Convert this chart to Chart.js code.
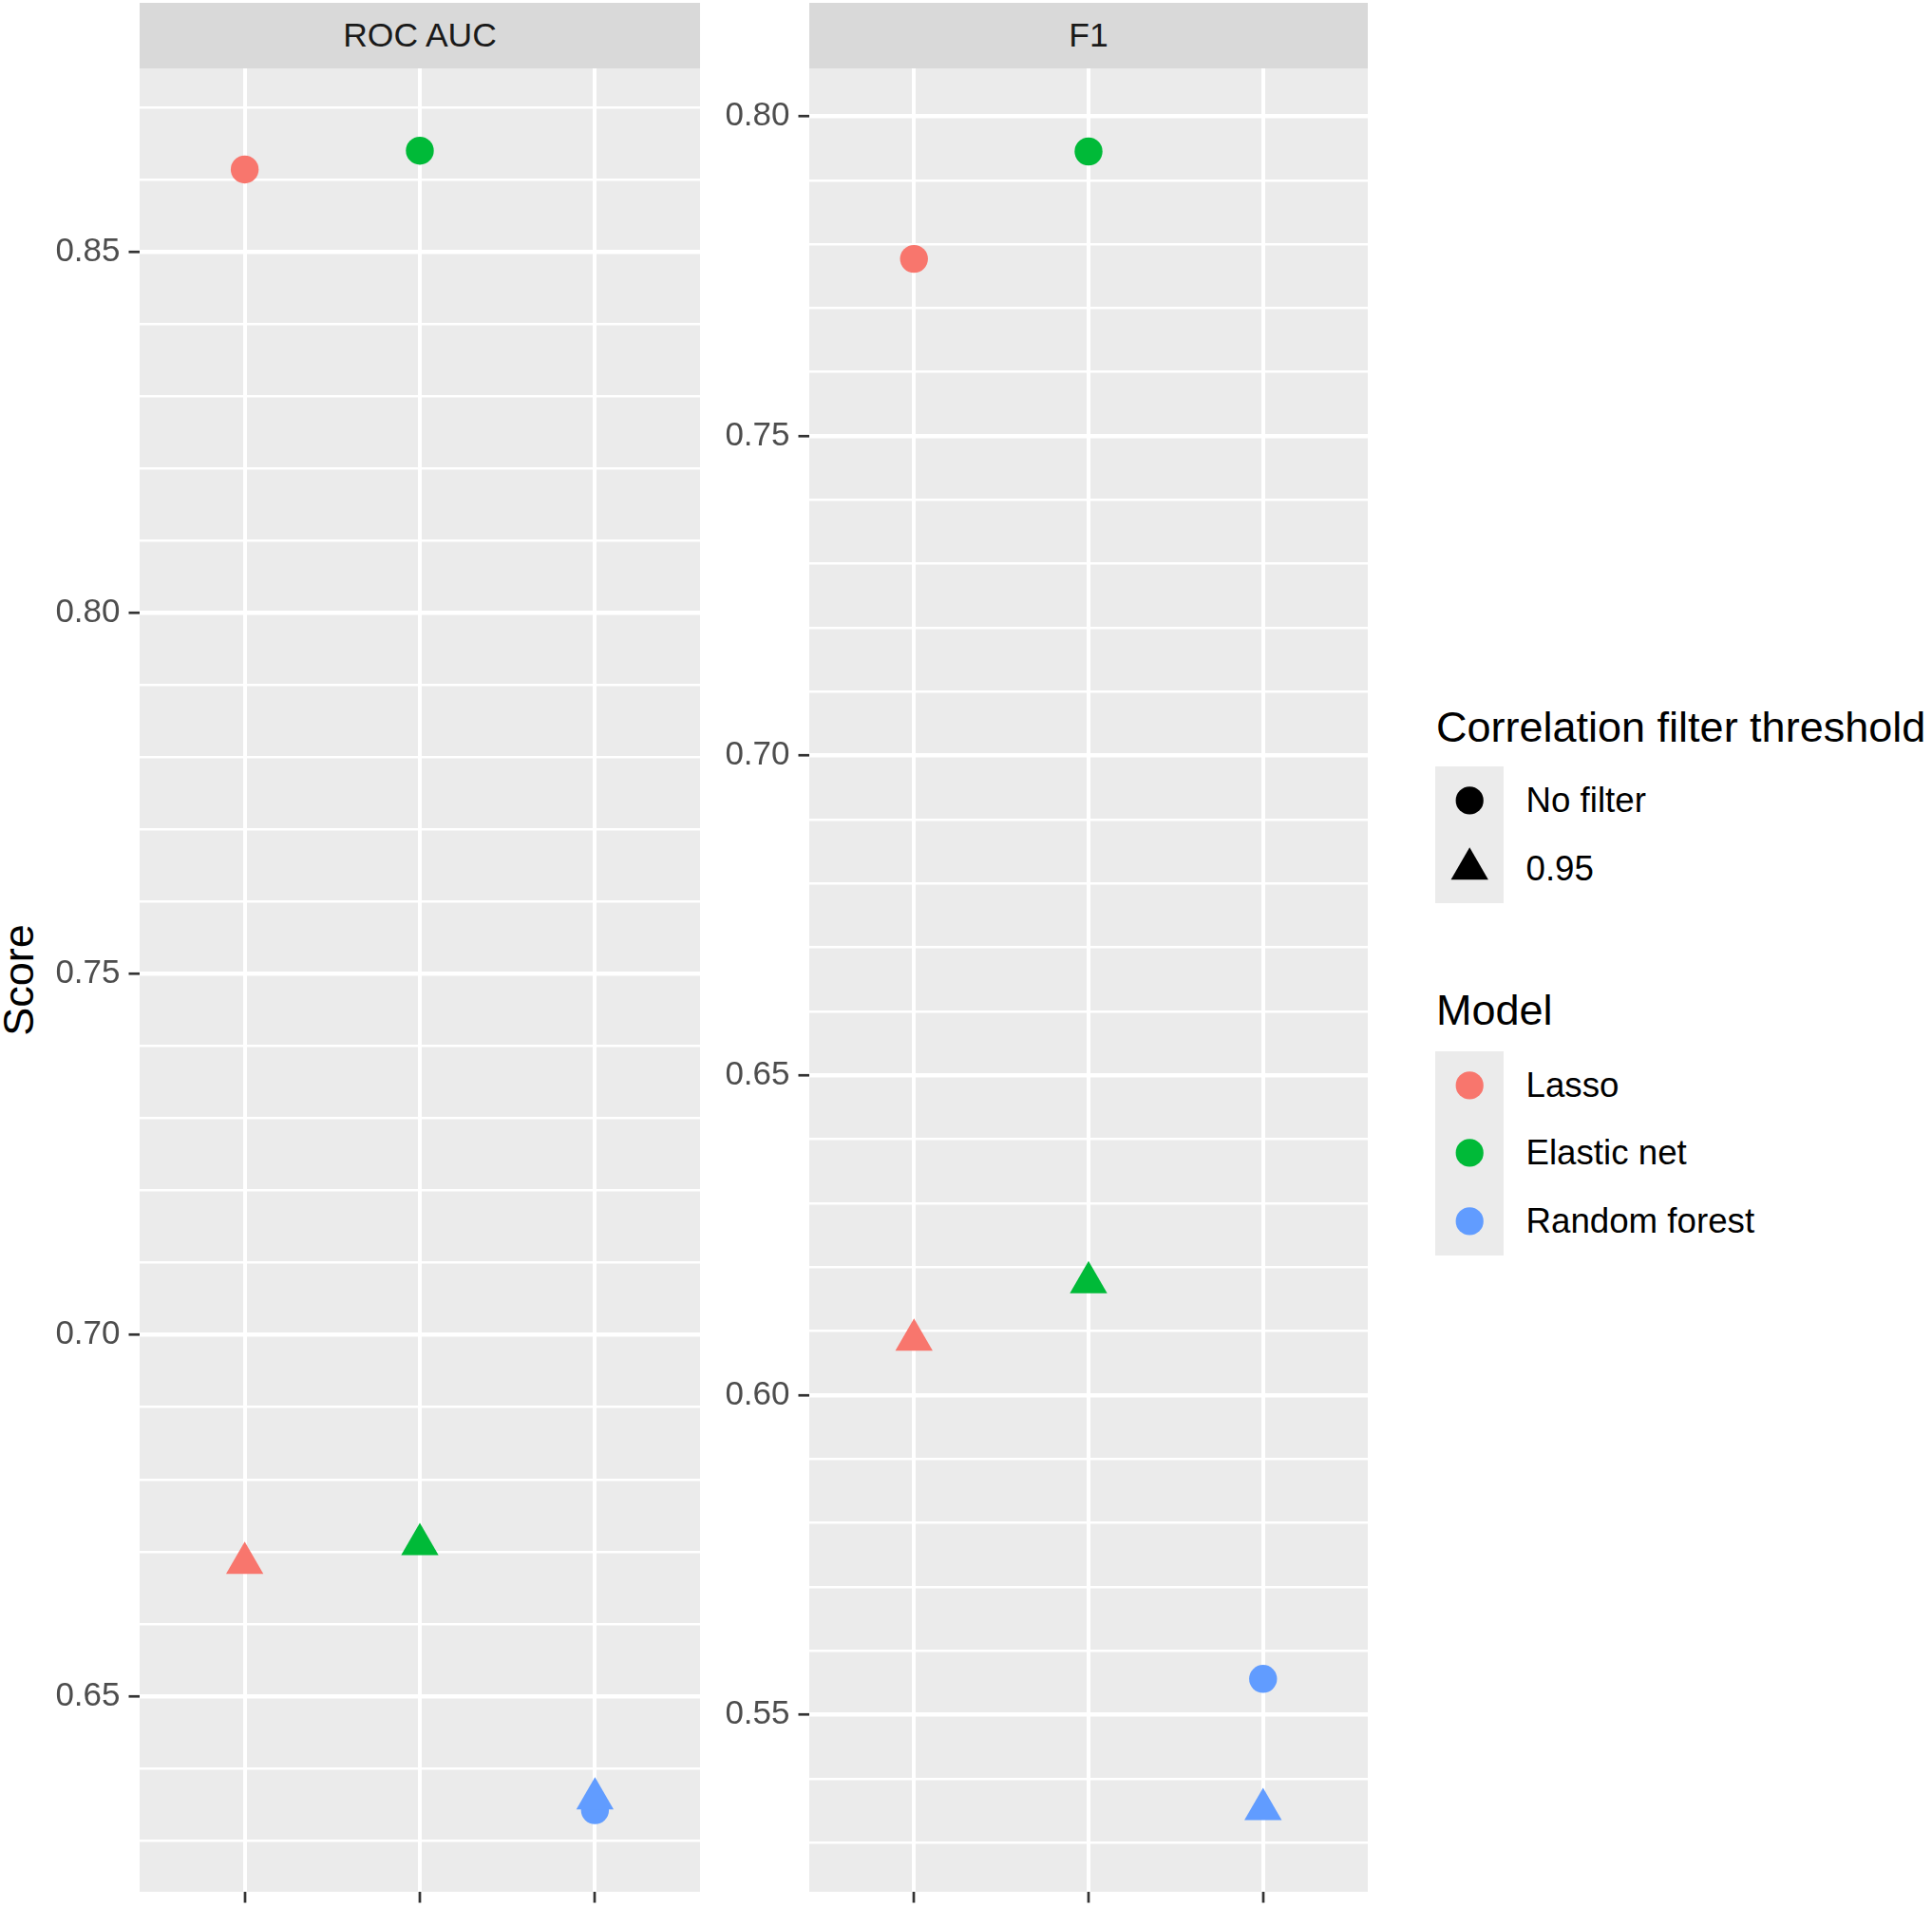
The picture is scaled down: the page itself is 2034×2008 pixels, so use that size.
<!DOCTYPE html>
<html>
<head>
<meta charset="utf-8">
<title>Score by model and correlation filter</title>
<script src="https://cdn.jsdelivr.net/npm/chart.js@4.4.1/dist/chart.umd.min.js"></script>
<style>
  html, body { margin: 0; padding: 0; background: #fff; }
  body {
    width: 2034px; height: 2008px; position: relative; overflow: hidden;
    font-family: "Liberation Sans", Arial, sans-serif;
  }
  canvas { position: absolute; }
  .strip {
    position: absolute; top: 3px; height: 68.5px; line-height: 68.5px;
    background: #D9D9D9; color: #1A1A1A; font-size: 35.5px; text-align: center;
  }
  #ytitle {
    position: absolute; left: 20px; top: 1032px; font-size: 45px; color: #000;
    transform: translate(-50%, -50%) rotate(-90deg); white-space: nowrap;
  }
  .leg-title { position: absolute; left: 1512px; font-size: 45px; line-height: 45px; color: #000; white-space: nowrap; }
  .leg-keys { position: absolute; left: 1510.6px; width: 72.4px; background: #EBEBEB; }
  .leg-keys svg { display: block; }
  .leg-label { position: absolute; left: 1606.5px; font-size: 36.7px; height: 71.8px; line-height: 71.8px; color: #000; white-space: nowrap; }
</style>
</head>
<body>
<div class="strip" style="left:147px;width:590px;">ROC AUC</div>
<div class="strip" style="left:852px;width:588px;">F1</div>
<div id="ytitle">Score</div>
<canvas id="rocChart" width="797" height="2056" style="left:0;top:12px;width:797px;height:2056px;"></canvas>
<canvas id="f1Chart" width="763" height="2056" style="left:737px;top:12px;width:763px;height:2056px;"></canvas>
<div id="legend"></div>

<script>
// ============================================
// DATA
// ============================================
const modelNames = ['Lasso', 'Elastic net', 'Random forest'];
const modelColors = ['#F8766D', '#00BA38', '#619CFF'];
const thresholdNames = ['No filter', '0.95'];

const rocNoFilter = [0.8614, 0.8640, 0.6342];
const rocFilter95 = [0.6684, 0.6710, 0.6358];
const f1NoFilter = [0.7777, 0.7945, 0.5556];
const f1Filter95 = [0.6086, 0.6176, 0.5352];

const rocTicks = [0.65, 0.70, 0.75, 0.80, 0.85];
const f1Ticks = [0.55, 0.60, 0.65, 0.70, 0.75, 0.80];
const rocRange = [0.6229, 0.8754];
const f1Range = [0.5223, 0.8075];
const minorStep = 0.01;

// ============================================
// PANEL BACKGROUND PLUGIN
// ============================================
const panelBackground = {
    id: 'panelBackground',
    beforeDraw(chart) {
        const { ctx, chartArea: a } = chart;
        ctx.save();
        ctx.fillStyle = '#EBEBEB';
        ctx.fillRect(a.left, a.top, a.right - a.left, a.bottom - a.top);
        ctx.restore();
    }
};

function isMajor(value, majorTicks) {
    return majorTicks.some(m => Math.abs(m - value) < 1e-6);
}

function makePanel(canvasId, noFilter, filter95, majorTicks, range, axisWidth) {
    const ctx = document.getElementById(canvasId).getContext('2d');

    return new Chart(ctx, {
        type: 'scatter',
        data: {
            datasets: [
                {
                    label: thresholdNames[1],
                    data: filter95.map((v, i) => ({ x: i, y: v })),
                    pointStyle: 'triangle',
                    pointRadius: 22.7,
                    pointHoverRadius: 22.7,
                    pointBackgroundColor: modelColors,
                    pointBorderWidth: 0,
                    order: 0
                },
                {
                    label: thresholdNames[0],
                    data: noFilter.map((v, i) => ({ x: i, y: v })),
                    pointStyle: 'circle',
                    pointRadius: 14.7,
                    pointHoverRadius: 14.7,
                    pointBackgroundColor: modelColors,
                    pointBorderWidth: 0,
                    order: 1
                }
            ]
        },
        options: {
            responsive: false,
            animation: false,
            // spare room round the plot so Chart.js never shrinks the panel for label overhang
            layout: { padding: { top: 60, bottom: 60, left: 0, right: 60 } },
            plugins: {
                legend: { display: false },
                tooltip: {
                    callbacks: {
                        label: c => modelNames[c.dataIndex] + ' (' + c.dataset.label + '): ' + c.parsed.y.toFixed(3)
                    }
                }
            },
            scales: {
                x: {
                    type: 'linear',
                    min: -0.6,
                    max: 2.6,
                    afterBuildTicks: s => { s.ticks = modelNames.map((n, i) => ({ value: i })); },
                    afterFit: s => { s.height = 16; },
                    ticks: { autoSkip: false, padding: 0, callback: () => '' },
                    grid: {
                        color: '#FFFFFF',
                        lineWidth: 4,
                        tickColor: '#333333',
                        tickLength: 11.5,
                        tickWidth: 2.7
                    },
                    border: { display: false }
                },
                y: {
                    type: 'linear',
                    min: range[0],
                    max: range[1],
                    afterBuildTicks: s => {
                        const ticks = [];
                        const first = Math.ceil(range[0] / minorStep);
                        const last = Math.floor(range[1] / minorStep);
                        for (let k = first; k <= last; k++) {
                            const v = +(k * minorStep).toFixed(4);
                            ticks.push({ value: v, isMajor: isMajor(v, majorTicks) });
                        }
                        s.ticks = ticks;
                    },
                    afterFit: s => { s.width = axisWidth; },
                    ticks: {
                        autoSkip: false,
                        padding: 9,
                        color: '#4D4D4D',
                        font: { size: 35 },
                        callback: v => isMajor(v, majorTicks) ? v.toFixed(2) : ''
                    },
                    grid: {
                        color: '#FFFFFF',
                        lineWidth: c => (c.tick && c.tick.isMajor) ? 4.5 : 2.6,
                        tickColor: c => (c.tick && c.tick.isMajor) ? '#333333' : 'rgba(0,0,0,0)',
                        tickLength: 11.5,
                        tickWidth: 2.7
                    },
                    border: { display: false }
                }
            }
        },
        plugins: [panelBackground]
    });
}

// ============================================
// LEGEND (HTML)
// ============================================
function shapeSvg(shape, color) {
    const c = 36.2, cy = 35.9;
    if (shape === 'triangle') {
        const r = 22.7, h = r * Math.sqrt(3) / 2;
        const pts = [[c, cy - r], [c + h, cy + r / 2], [c - h, cy + r / 2]].map(p => p.join(',')).join(' ');
        return '<svg width="72.4" height="71.8"><polygon points="' + pts + '" fill="' + color + '"/></svg>';
    }
    return '<svg width="72.4" height="71.8"><circle cx="' + c + '" cy="' + cy + '" r="14.6" fill="' + color + '"/></svg>';
}

function addLegendGroup(host, title, titleTop, keysTop, items) {
    let html = '<div class="leg-title" style="top:' + titleTop + 'px">' + title + '</div>';
    html += '<div class="leg-keys" style="top:' + keysTop + 'px">';
    items.forEach(it => { html += shapeSvg(it.shape, it.color); });
    html += '</div>';
    items.forEach((it, i) => {
        html += '<div class="leg-label" style="top:' + (keysTop + i * 71.8) + 'px">' + it.label + '</div>';
    });
    host.insertAdjacentHTML('beforeend', html);
}

document.addEventListener('DOMContentLoaded', () => {
    Chart.defaults.font.family = '"Liberation Sans", Arial, sans-serif';

    makePanel('rocChart', rocNoFilter, rocFilter95, rocTicks, rocRange, 147);
    makePanel('f1Chart', f1NoFilter, f1Filter95, f1Ticks, f1Range, 115);

    const legend = document.getElementById('legend');
    addLegendGroup(legend, 'Correlation filter threshold', 743, 807,
        thresholdNames.map((n, i) => ({ label: n, shape: i === 0 ? 'circle' : 'triangle', color: '#000000' })));
    addLegendGroup(legend, 'Model', 1041, 1106.6,
        modelNames.map((n, i) => ({ label: n, shape: 'circle', color: modelColors[i] })));
});
</script>
</body>
</html>
